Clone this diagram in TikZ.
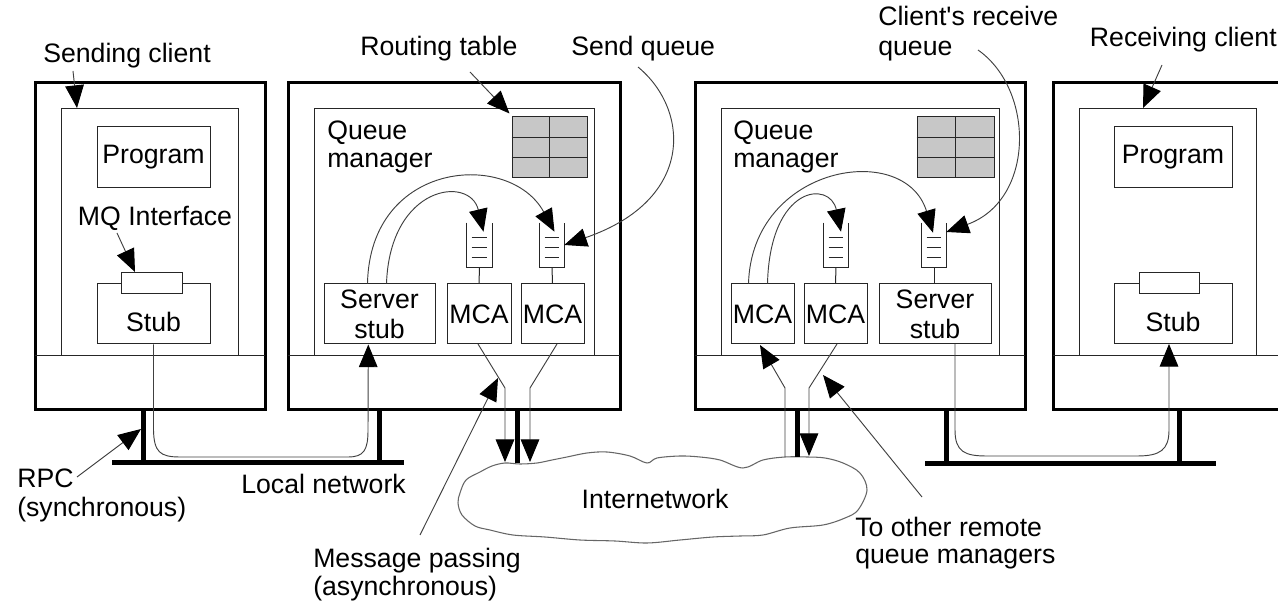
\documentclass[tikz,border=0pt]{standalone}
\usepackage{fontspec}
\setmainfont{Liberation Sans}
\newfontfamily\nolig{Liberation Sans}
\usetikzlibrary{arrows.meta,calc}
\newcommand\qtube[1]{%
  \draw[thinline] (#1.north west) -- (#1.south west) -- (#1.south east) -- (#1.north east);
  \foreach \f in {0.33,0.55,0.77}
    \draw[thinline] ($(#1.north west)!\f!(#1.south west)+(5,0)$) -- ($(#1.north east)!\f!(#1.south east)+(-5,0)$);}
\newcommand\rgrid[1]{%
  \draw[thinline] (#1.north) -- (#1.south);
  \draw[thinline] ($(#1.north west)!1/3!(#1.south west)$) -- ($(#1.north east)!1/3!(#1.south east)$);
  \draw[thinline] ($(#1.north west)!2/3!(#1.south west)$) -- ($(#1.north east)!2/3!(#1.south east)$);}
\begin{document}
\begin{tikzpicture}[x=0.75pt,y=-0.75pt,
  font=\fontsize{20}{22.5}\selectfont,
  >={Triangle[length=17pt,width=14pt,color=black,fill=black]},
  wh/.style 2 args={minimum width=#1*0.75pt, minimum height=#2*0.75pt},
  machine/.style={draw, line width=2.25pt, inner sep=0pt},
  thinline/.style={line width=0.75pt, draw=black!85},
  bx/.style={draw=black!85, line width=0.75pt, inner sep=0pt, fill=white},
  qbox/.style={inner sep=0pt, draw=none},
  rtable/.style={draw=black!85, line width=0.75pt, fill=black!22, inner sep=0pt},
  lbl/.style={inner sep=0pt, anchor=base west},
  net/.style={line width=3.75pt},
  conn/.style={line width=0.7pt, draw=black!75, fill=none},
  arr/.style={conn, ->},
  cloudline/.style={line width=0.8pt, draw=black!60}
]
\useasboundingbox (0,0) rectangle (1278,605);
\clip (0,0) rectangle (1278,605);

% ---------------- Machine 1: sending client
\node[machine, wh={230}{327}] (m1) at (150,246.5) {};
\draw[thinline] (35,356) -- (265,356);
\node[bx, wh={177}{247}] (in1) at (149.5,232.5) {};
\node[bx, wh={113}{61}] (prog1) at (153.5,157.5) {Program};
\node[bx, wh={113}{60}] (stub1) at (153.5,314) {};
\node[bx, wh={61}{21}] (if1) at (151.5,283.5) {};
\node[inner sep=0pt] (stub1t) at (153.5,322) {Stub};
\node[inner sep=0pt] (mqi) at (155,218) {MQ Interface};

% ---------------- Machine 2: queue manager
\node[machine, wh={332}{327}] (m2) at (454,246.5) {};
\draw[thinline] (288,356) -- (620,356);
\node[bx, wh={280}{247}] (in2) at (454,232.5) {};
\node[rtable, wh={75}{61}] (rt2) at (549.5,147.5) {};
\rgrid{rt2}
\node[lbl] (qm2a) at (327,140) {Queue};
\node[lbl] (qm2b) at (327,168) {manager};
\node[bx, wh={111}{60}, align=center] (sstub1) at (379.5,314) {Server\\stub};
\node[bx, wh={64}{60}] (mca1) at (479,314) {MCA};
\node[bx, wh={63}{60}] (mca2) at (552.5,314) {MCA};
\node[qbox, wh={25}{44}] (q1) at (479.5,245) {};
\node[qbox, wh={24}{44}] (q2) at (552,245) {};
\qtube{q1}
\qtube{q2}
\draw[thinline] (q1.south) -- (mca1.north);
\draw[thinline] (q2.south) -- (mca2.north);

% ---------------- Machine 3: queue manager
\node[machine, wh={330}{327}] (m3) at (860,246.5) {};
\draw[thinline] (695,356) -- (1025,356);
\node[bx, wh={278}{247}] (in3) at (860,232.5) {};
\node[rtable, wh={77}{61}] (rt3) at (955.5,147.5) {};
\rgrid{rt3}
\node[lbl] (qm3a) at (733,140) {Queue};
\node[lbl] (qm3b) at (733,168) {manager};
\node[bx, wh={63}{60}] (mca3) at (762.5,314) {MCA};
\node[bx, wh={63}{60}] (mca4) at (835.5,314) {MCA};
\node[bx, wh={112}{60}, align=center] (sstub2) at (935,314) {Server\\stub};
\node[qbox, wh={24}{44}] (q3) at (836,245) {};
\node[qbox, wh={24}{44}] (q4) at (934,245) {};
\qtube{q3}
\qtube{q4}
\draw[thinline] (q3.south) -- (mca4.north);
\draw[thinline] (q4.south) -- (sstub2.north -| q4.south);

% ---------------- Machine 4: receiving client (runs off the right edge)
\coordinate (m4tl) at (1053,83);
\coordinate (m4bl) at (1053,410);
\draw[line width=2.25pt] (1290,83) -- (m4tl) -- (m4bl) -- (1290,410);
\draw[thinline] (1053,356) -- (1290,356);
\node[bx, wh={177}{247}] (in4) at (1167.5,232.5) {};
\node[bx, wh={118}{61}] (prog4) at (1173,157.5) {Program};
\node[bx, wh={118}{60}] (stub4) at (1173,314) {};
\node[bx, wh={60}{21}] (if4) at (1169,283.5) {};
\node[inner sep=0pt] (stub4t) at (1173,322) {Stub};

% ---------------- Networks
\coordinate (lanA) at (112,463);
\coordinate (lanB) at (404,463);
\draw[net] (lanA) -- (lanB);
\draw[net] (143,409) -- (143,463);
\draw[net] (379,409) -- (379,463);
\coordinate (lanC) at (925,464);
\coordinate (lanD) at (1216,464);
\draw[net] (lanC) -- (lanD);
\draw[net] (946,409) -- (946,464);
\draw[net] (1179,409) -- (1179,464);

% Internetwork cloud
\draw[cloudline] plot[smooth cycle, tension=0.55] coordinates {
 (460,493) (466,480) (480,472) (492,466) (505,463) (520,464) (537,463)
 (552,460) (567,457) (587,453) (607,452) (630,456) (647,463) (657,458)
 (680,456) (700,457) (720,460) (743,468) (763,460) (785,457) (807,457)
 (825,458) (843,463) (860,473) (867,490) (858,510) (845,518) (823,525)
 (790,528) (763,535) (740,536) (713,537) (680,540) (647,543) (615,541)
 (580,540) (545,537) (513,535) (490,530) (475,526) (462,515) (458,503)};
\node[inner sep=0pt] (inet) at (655,499) {Internetwork};

\draw[net] (517,409) -- (517,463);
\draw[net] (797,409) -- (797,457);

% ---------------- RPC paths (local networks)
\draw[arr] (stub1.south) -- (153.5,430)
  .. controls (154,452) and (160,457) .. (180,457) -- (348,457)
  .. controls (364,457) and (368,450) .. (368,430)
  -- ($(sstub1.south west)!0.4!(sstub1.south east)$);
\draw[arr] (955,344) -- (955,430)
  .. controls (955,452) and (965,456) .. (987,456) -- (1137,456)
  .. controls (1160,456) and (1169,450) .. (1169,430)
  -- (1169,344);

% ---------------- Message channel funnels
\draw[arr] (478,344) -- (505,388) -- (505,462);
\draw[arr] (557,344) -- (530,388) -- (530,462);
\draw[arr] (785,457) -- (785,388) -- (760,345);
\draw[arr] (837,344) -- (809,388) -- (809,456);

% ---------------- Queue-manager internal arrows
\draw[arr] ($(sstub1.north west)+(44,0)$) .. controls (370,160) and (510,150) .. ($(q2.north)+(2.5,9)$);
\draw[arr] ($(sstub1.north west)+(63,0)$) .. controls (390,185) and (470,175) .. ($(q1.north)+(4,9)$);
\draw[arr] ($(mca3.north west)+(18,0)$) .. controls (752,165) and (905,140) .. ($(q4.north)+(-1,10)$);
\draw[arr] ($(mca3.north west)+(37,0)$) .. controls (770,185) and (830,180) .. ($(q3.north)+(5,9)$);

% ---------------- Labels and pointer arrows
\node[lbl] (lsend) at (43,63) {Sending client};
\coordinate (lsendp) at (73,71);
\draw[arr] (lsendp) -- (77,108);

\coordinate (mqip) at (117,233);
\draw[arr] (mqip) -- (135,272);

\node[lbl] (lrt) at (360,56) {Routing table};
\coordinate (lrtp) at (470,72);
\draw[arr] (lrtp) -- ($(rt2.north west)+(-2,-3)$);

\node[lbl] (lsq) at (571,56) {Send queue};
\coordinate (lsqp) at (638,67);
\draw[arr] (lsqp) .. controls (690,110) and (695,200) .. (q2.east);

\node[lbl, font=\nolig\fontsize{20}{22.5}\selectfont] (lcrq1) at (878,26) {Client's receive};
\node[lbl] (lcrq2) at (878,56) {queue};
\coordinate (lcrqp) at (978,50);
\draw[arr] (lcrqp) .. controls (1035,90) and (1035,200) .. ($(q4.east)+(0,-13)$);

\node[inner sep=0pt, anchor=base east] (lrecv) at (1277,47) {Receiving client};
\coordinate (lrecvp) at (1162,65);
\draw[arr] (lrecvp) -- (1143,108);

\node[lbl] (lrpc1) at (17,488) {RPC};
\node[lbl] (lrpc2) at (17,517) {(synchronous)};
\coordinate (lrpcp) at (77,477);
\draw[arr] (lrpcp) -- (141,429);

\node[lbl] (llan) at (241,494) {Local network};

\node[lbl] (lmp1) at (313,567) {Message passing};
\node[lbl] (lmp2) at (313,595) {(asynchronous)};
\coordinate (lmpp) at (420,535);
\draw[arr] (lmpp) -- (498,378);

\node[lbl] (lto1) at (855,537) {To other remote};
\node[lbl] (lto2) at (855,563) {queue managers};
\coordinate (ltop) at (922,497);
\draw[arr] (ltop) -- (823,375);
\end{tikzpicture}
\end{document}
